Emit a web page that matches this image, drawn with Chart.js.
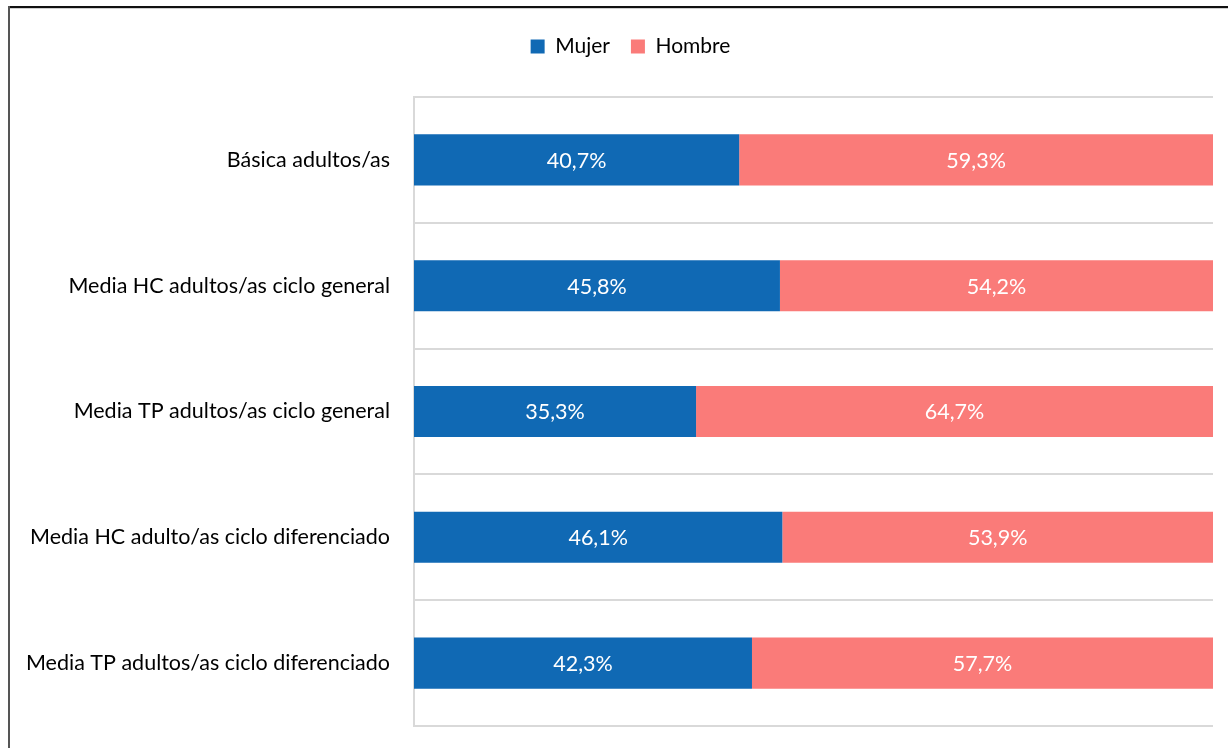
<!DOCTYPE html>
<html>
<head>
<meta charset="utf-8">
<script src="https://cdn.jsdelivr.net/npm/chart.js@4/dist/chart.umd.min.js"></script>
<style>
  html, body { margin: 0; padding: 0; background: #ffffff; }
  #wrap { position: relative; width: 1228px; height: 748px; }
</style>
</head>
<body>
<div id="wrap"><canvas id="c" width="1228" height="748"></canvas></div>
<script>
const categories = [
  "Básica adultos/as",
  "Media HC adultos/as ciclo general",
  "Media TP adultos/as ciclo general",
  "Media HC adulto/as ciclo diferenciado",
  "Media TP adultos/as ciclo diferenciado"
];
const seriesNames = ["Mujer", "Hombre"];
const mujer = [40.7, 45.8, 35.3, 46.1, 42.3];
const hombre = [59.3, 54.2, 64.7, 53.9, 57.7];

const FONT = "Lato, 'Open Sans', sans-serif";

const frame = {
  id: 'frame',
  afterDraw(chart) {
    const ctx = chart.ctx;
    ctx.save();
    ctx.fillStyle = '#111111';
    ctx.fillRect(8, 6, 1220, 2);
    ctx.fillStyle = '#cfcfcf';
    ctx.fillRect(10, 8, 1218, 1);
    ctx.fillStyle = '#555555';
    ctx.fillRect(8, 6, 2, 742);
    ctx.restore();
  }
};

const valueLabels = {
  id: 'valueLabels',
  afterDatasetsDraw(chart) {
    const ctx = chart.ctx;
    ctx.save();
    ctx.font = "21.5px " + FONT;
    ctx.fillStyle = '#ffffff';
    ctx.textAlign = 'center';
    ctx.textBaseline = 'middle';
    chart.data.datasets.forEach((ds, di) => {
      const meta = chart.getDatasetMeta(di);
      meta.data.forEach((bar, i) => {
        const v = ds.data[i];
        const cx = (bar.x + bar.base) / 2;
        ctx.fillText(v.toFixed(1).replace('.', ',') + '%', cx, bar.y + 1);
      });
    });
    ctx.restore();
  }
};

const legendHeight = {
  id: 'legendHeight',
  beforeInit(chart) {
    const origFit = chart.legend.fit;
    chart.legend.fit = function () {
      origFit.call(this);
      this.height = 82;
    };
  },
  afterLayout(chart) {
    chart.legend.left += 24;
    chart.legend.right += 24;
  }
};

new Chart(document.getElementById('c'), {
  type: 'bar',
  data: {
    labels: categories,
    datasets: [
      { label: seriesNames[0], data: mujer, backgroundColor: '#1069B4', borderWidth: 0,
        barPercentage: 0.406, categoryPercentage: 1.0 },
      { label: seriesNames[1], data: hombre, backgroundColor: '#FA7B79', borderWidth: 0,
        barPercentage: 0.406, categoryPercentage: 1.0 }
    ]
  },
  options: {
    indexAxis: 'y',
    responsive: false,
    maintainAspectRatio: false,
    animation: false,
    devicePixelRatio: 1,
    layout: { padding: { top: 15, right: 15, bottom: 22, left: 0 } },
    plugins: {
      legend: {
        position: 'top',
        align: 'center',
        labels: {
          boxWidth: 14, boxHeight: 14, padding: 21,
          color: '#000000',
          font: { family: FONT, size: 21 }
        }
      },
      tooltip: { enabled: false },
      title: { display: false }
    },
    scales: {
      x: {
        stacked: true, min: 0, max: 100, display: false
      },
      y: {
        stacked: true,
        afterFit(scale) { scale.width = 414; scale.paddingTop = 0; scale.paddingBottom = 0; },
        grid: { color: '#D9D9D9', lineWidth: 2, drawTicks: false, offset: true },
        border: { color: '#D9D9D9', width: 2 },
        ticks: { color: '#000000', padding: 24, font: { family: FONT, size: 21.5 } }
      }
    }
  },
  plugins: [frame, valueLabels, legendHeight]
});
</script>
</body>
</html>
